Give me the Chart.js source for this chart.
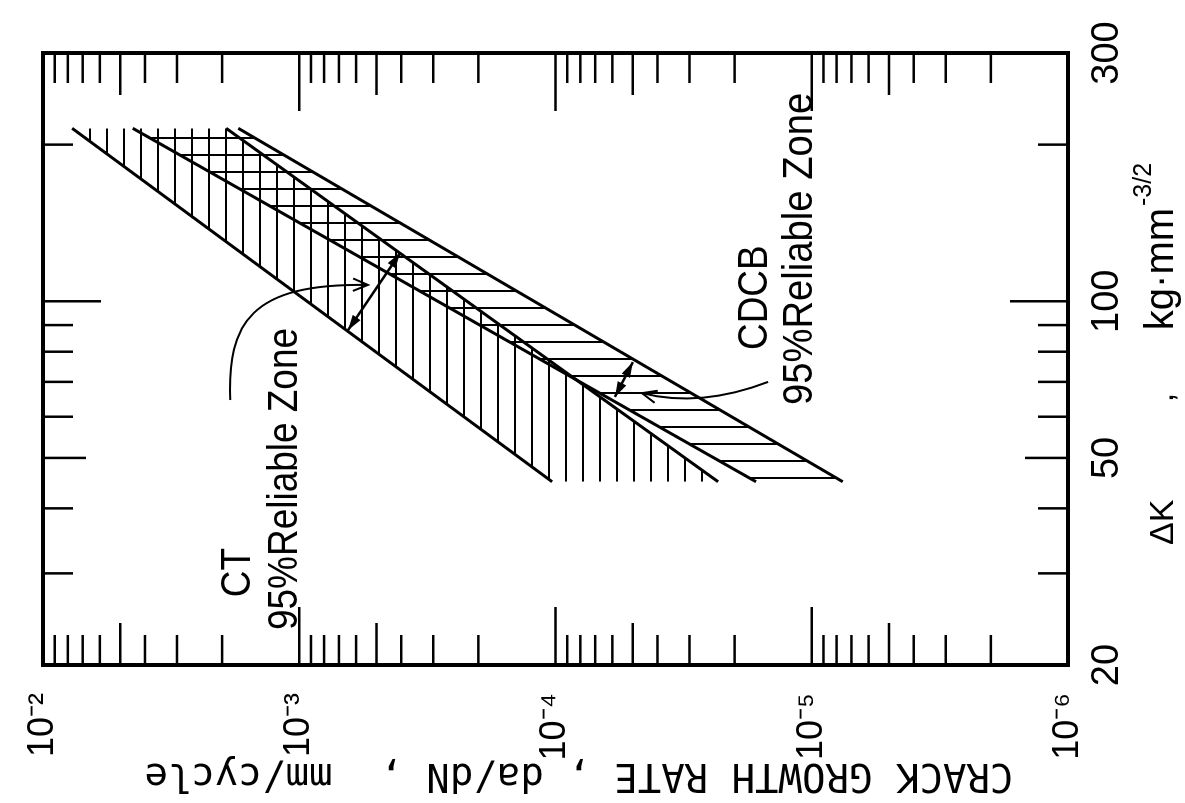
<!DOCTYPE html>
<html>
<head>
<meta charset="utf-8">
<script src="https://cdn.jsdelivr.net/npm/chart.js@4.4.1/dist/chart.umd.min.js"></script>
<style>
  html, body { margin: 0; padding: 0; background: #fff; overflow: hidden; }
  /* the figure is printed turned a quarter turn: draw it upright, then rotate */
  #wrap {
    position: absolute; left: 0; top: 0; width: 803px; height: 1185px;
    transform-origin: 0 0; transform: translate(0, 803px) rotate(-90deg);
  }
</style>
</head>
<body>
<div id="wrap"><canvas id="crackChart" width="803" height="1185"></canvas></div>
<script>
// axes
const dkMin = 20, dkMax = 300;
const rateMin = 1e-6, rateMax = 1e-2;
const dkLabelValues = [20, 50, 100, 300];
const dkTickValues = [30, 40, 50, 60, 70, 80, 90, 100, 200];
const rateDecades = [1e-6, 1e-5, 1e-4, 1e-3, 1e-2];
const rateLabels = ['10⁻⁶', '10⁻⁵', '10⁻⁴', '10⁻³', '10⁻²'];

// 95% reliable zones, ends read at dK = 45 and 215
const bandDK = [45, 215];
const ctHigh = [1.03e-4, 7.70e-3];
const ctLow = [2.32e-5, 1.93e-3];
const cdcbHigh = [1.65e-5, 4.46e-3];
const cdcbLow = [7.57e-6, 1.73e-3];

// annotations, in data units [dK, da/dN]
const notes = [
    { text: 'CT', at: [27.0, 1.556e-3], squeeze: 0.88 },
    { text: '95%Reliable Zone', at: [23.35, 1.02e-3], squeeze: 0.88 },
    { text: 'CDCB', at: [80.6, 1.5e-5], squeeze: 0.88 },
    { text: '95%Reliable Zone', at: [63.2, 1.0e-5], squeeze: 0.91 }
];
const ctArc = [[64.6, 1.86e-3], [90.8, 1.90e-3], [108.4, 1.56e-3], [107.5, 5.4e-4]];
const ctSpan = [[88, 6.45e-4], [123.8, 4.04e-4]];
const cdcbArc = [[70, 1.48e-5], [62.4, 2.73e-5], [66.6, 4.6e-5]];
const cdcbSpan = [[76.4, 4.99e-5], [65.5, 5.86e-5]];

const SANS = '"Liberation Sans", Arial, sans-serif';

const canvas = document.getElementById('crackChart');
const ctx = canvas.getContext('2d');

function hatch(horizontal) {
    const c = document.createElement('canvas');
    c.width = 17;
    c.height = 17;
    const g = c.getContext('2d');
    g.fillStyle = '#000';
    if (horizontal) {
        g.fillRect(0, 4, 17, 2);
    } else {
        g.fillRect(1, 0, 2, 17);
    }
    return ctx.createPattern(c, 'repeat');
}

function toPoints(ys) {
    return bandDK.map((k, i) => ({ x: k, y: ys[i] }));
}

function line(g, x0, y0, x1, y1) {
    g.beginPath();
    g.moveTo(x0, y0);
    g.lineTo(x1, y1);
    g.stroke();
}

// the print uses a narrow face, so squeeze the regular one
function narrowText(g, text, x, y, squeeze) {
    g.save();
    g.translate(x, y);
    g.scale(squeeze, 1);
    g.fillText(text, 0, 0);
    g.restore();
}

function openHead(g, from, to, size = 16) {
    const ang = Math.atan2(to[1] - from[1], to[0] - from[0]);
    g.beginPath();
    g.moveTo(to[0] - size * Math.cos(ang - 0.4), to[1] - size * Math.sin(ang - 0.4));
    g.lineTo(to[0], to[1]);
    g.lineTo(to[0] - size * Math.cos(ang + 0.4), to[1] - size * Math.sin(ang + 0.4));
    g.stroke();
}

function solidHead(g, from, to, size = 16) {
    const ang = Math.atan2(to[1] - from[1], to[0] - from[0]);
    g.beginPath();
    g.moveTo(to[0], to[1]);
    g.lineTo(to[0] - size * Math.cos(ang - 0.3), to[1] - size * Math.sin(ang - 0.3));
    g.lineTo(to[0] - size * Math.cos(ang + 0.3), to[1] - size * Math.sin(ang + 0.3));
    g.closePath();
    g.fill();
}

// inward ticks on all four sides plus the heavy frame
const frameTicks = {
    id: 'frameTicks',
    afterDraw(chart) {
        const { ctx: g, chartArea: a, scales: { x, y } } = chart;
        g.save();
        g.strokeStyle = '#000';
        g.lineWidth = 2.5;
        dkTickValues.forEach(v => {
            const px = x.getPixelForValue(v);
            const len = v === 100 ? 58 : (v === 50 ? 43 : 30);
            line(g, px, a.bottom, px, a.bottom - len);
            line(g, px, a.top, px, a.top + len);
        });
        rateDecades.forEach(d => {
            for (let m = 1; m <= 9; m++) {
                const v = d * m;
                if (v <= rateMin || v >= rateMax) continue;
                const py = y.getPixelForValue(v);
                const len = m === 1 ? 58 : (m === 5 ? 42 : 30);
                line(g, a.left, py, a.left + len, py);
                line(g, a.right, py, a.right - len, py);
            }
        });
        g.lineWidth = 4;
        g.strokeRect(a.left, a.top, a.right - a.left, a.bottom - a.top);
        g.restore();
    }
};

const annotate = {
    id: 'annotate',
    afterDatasetsDraw(chart) {
        const { ctx: g, chartArea: a, scales: { x, y } } = chart;
        const P = p => [x.getPixelForValue(p[0]), y.getPixelForValue(p[1])];
        g.save();
        g.fillStyle = '#000';
        g.strokeStyle = '#000';
        g.textAlign = 'left';
        g.textBaseline = 'alphabetic';
        g.font = `42px ${SANS}`;
        notes.forEach(n => {
            const [px, py] = P(n.at);
            narrowText(g, n.text, px, py, n.squeeze);
        });

        g.lineWidth = 2;
        const [a0, a1, a2, a3] = ctArc.map(P);
        g.beginPath();
        g.moveTo(a0[0], a0[1]);
        g.bezierCurveTo(a1[0], a1[1], a2[0], a2[1], a3[0], a3[1]);
        g.stroke();
        openHead(g, a2, a3);

        const [b0, b1, b2] = cdcbArc.map(P);
        g.beginPath();
        g.moveTo(b0[0], b0[1]);
        g.quadraticCurveTo(b1[0], b1[1], b2[0], b2[1]);
        g.stroke();
        openHead(g, b1, b2);

        g.lineWidth = 2.5;
        [ctSpan, cdcbSpan].forEach(s => {
            const p = P(s[0]), q = P(s[1]);
            line(g, p[0], p[1], q[0], q[1]);
            solidHead(g, p, q);
            solidHead(g, q, p);
        });

        // x axis title with its superscript unit
        const base = a.bottom + 105;
        g.font = `34px ${SANS}`;
        g.fillText('ΔK', x.getPixelForValue(34), base);
        g.fillText(',', x.getPixelForValue(64), base);
        const unitX = x.getPixelForValue(88);
        g.font = `40px ${SANS}`;
        g.fillText('kg·mm', unitX, base);
        const w = g.measureText('kg·mm').width;
        g.font = `25px ${SANS}`;
        g.fillText('-3/2', unitX + w + 2, base - 22);
        g.restore();
    }
};

new Chart(ctx, {
    type: 'line',
    data: {
        datasets: [
            { data: toPoints(ctHigh), fill: '+1', backgroundColor: hatch(true) },
            { data: toPoints(ctLow), fill: false },
            { data: toPoints(cdcbHigh), fill: '+1', backgroundColor: hatch(false) },
            { data: toPoints(cdcbLow), fill: false }
        ].map(d => Object.assign(d, {
            borderColor: '#000',
            borderWidth: 3,
            pointRadius: 0,
            tension: 0
        }))
    },
    options: {
        responsive: false,
        animation: false,
        devicePixelRatio: 1,
        layout: { padding: { left: 0, top: 43, right: 53, bottom: 0 } },
        plugins: {
            legend: { display: false },
            tooltip: { enabled: false }
        },
        scales: {
            x: {
                type: 'logarithmic',
                position: 'bottom',
                min: dkMin,
                max: dkMax,
                grid: { display: false },
                border: { display: false },
                afterBuildTicks: s => { s.ticks = dkLabelValues.map(v => ({ value: v })); },
                afterFit: s => { s.height = 117; },
                ticks: {
                    autoSkip: false,
                    maxRotation: 0,
                    padding: 9,
                    color: '#000',
                    font: { family: SANS, size: 38 },
                    callback: (v, i) => String(dkLabelValues[i])
                }
            },
            y: {
                type: 'logarithmic',
                position: 'left',
                min: rateMin,
                max: rateMax,
                grid: { display: false },
                border: { display: false },
                afterBuildTicks: s => { s.ticks = rateDecades.map(v => ({ value: v })); },
                afterFit: s => { s.width = 138; },
                ticks: {
                    autoSkip: false,
                    padding: 20,
                    color: '#000',
                    font: { family: SANS, size: 36 },
                    callback: (v, i) => rateLabels[i]
                },
                title: {
                    display: true,
                    text: 'CRACK GROWTH RATE , da/dN ,  mm/cycle  ',
                    color: '#000',
                    font: { family: '"DejaVu Sans Mono", monospace', size: 39 },
                    padding: { top: 5, bottom: 0 }
                }
            }
        }
    },
    plugins: [frameTicks, annotate]
});
</script>
</body>
</html>
